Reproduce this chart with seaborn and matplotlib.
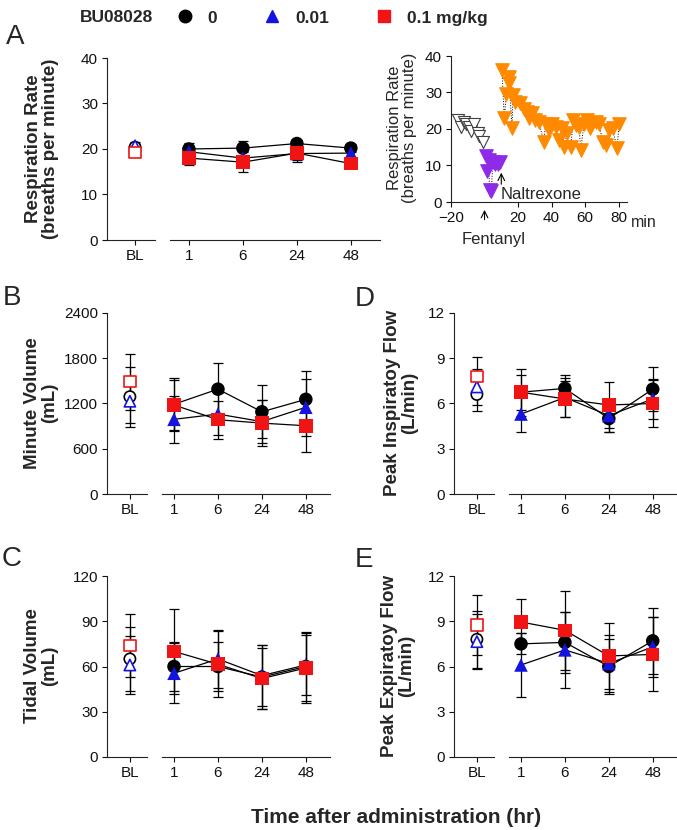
import numpy as np
import pandas as pd
import matplotlib
matplotlib.use('Agg')
import matplotlib.pyplot as plt
import seaborn as sns
from matplotlib.lines import Line2D

# ---- data ----
doses = ['0', '0.01', '0.1 mg/kg']
times = ['1', '6', '24', '48']
dose_colors = {'0': 'black', '0.01': '#1414E0', '0.1 mg/kg': '#F01414'}
dose_markers = {'0': 'o', '0.01': '^', '0.1 mg/kg': 's'}

# A: respiration rate
rr_bl = [20.4, 20.7, 19.3]
rr_bl_err = [0.8, 0.8, 0.8]
rr_0 = [20, 20.2, 21.2, 20.2]
rr_0_err = [1.3, 1.6, 0.8, 0.8]
rr_001 = [19.4, 18, 19, 19.1]
rr_001_err = [1.0, 1.5, 1.5, 1.0]
rr_01 = [18, 17.1, 19.1, 16.8]
rr_01_err = [1.5, 2.2, 2.0, 0.8]

# B: minute volume
mv_bl = [1290, 1230, 1490]
mv_bl_err = [400, 290, 370]
mv_0 = [1190, 1390, 1090, 1255]
mv_0_err = [350, 350, 350, 380]
mv_001 = [990, 1060, 960, 1150]
mv_001_err = [310, 280, 290, 380]
mv_01 = [1180, 985, 940, 905]
mv_01_err = [330, 250, 300, 345]

# C: tidal volume
tv_bl = [65, 61, 74]
tv_bl_err = [21, 19, 21]
tv_0 = [60, 60, 53, 60]
tv_0_err = [16, 16, 21, 23]
tv_001 = [55.5, 65, 54, 61]
tv_001_err = [20, 19, 20, 20]
tv_01 = [70, 61.5, 52, 59]
tv_01_err = [28, 22, 20, 23]

# D: peak inspiratory flow
pif_bl = [6.6, 7.1, 7.8]
pif_bl_err = [1.1, 1.2, 1.3]
pif_0 = [6.75, 7.0, 5.0, 6.95]
pif_0_err = [1.55, 0.9, 0.9, 1.45]
pif_001 = [5.3, 6.4, 5.2, 6.3]
pif_001_err = [1.2, 1.3, 1.1, 1.35]
pif_01 = [6.75, 6.3, 5.9, 6.0]
pif_01_err = [1.15, 1.2, 1.5, 1.55]

# E: peak expiratory flow
pef_bl = [7.8, 7.65, 8.75]
pef_bl_err = [1.9, 1.8, 2.0]
pef_0 = [7.5, 7.6, 6.0, 7.7]
pef_0_err = [0.7, 2.0, 1.85, 2.2]
pef_001 = [6.1, 7.1, 6.2, 7.3]
pef_001_err = [2.1, 2.5, 1.9, 2.0]
pef_01 = [8.95, 8.4, 6.7, 6.8]
pef_01_err = [1.5, 2.6, 2.2, 2.45]

# inset: respiration rate over minutes
pre_t = [-16, -14, -12, -11, -9, -8, -6, -4, -3, -1]
pre_y = [22.5, 20.5, 22, 21.5, 20.5, 19.5, 21.5, 19, 18, 16.5]
fen_t = [1, 1.5, 2.5, 3, 4, 5, 6, 8, 9.5]
fen_y = [12.5, 8.5, 11.5, 3.2, 3.0, 11.0, 10.5, 10.5, 11.0]
nal_t = [10.4, 11.8, 13, 14.4, 14.8, 16.4, 17, 18.4, 21.4, 23.4, 25.4, 26.4, 28.4,
         30.4, 32.4, 35.4, 36.4, 38.4, 40.4, 42.4, 44.4, 46.4, 47.4, 49.4, 51.4,
         53, 54.4, 56.4, 57.4, 59.4, 61.4, 63, 64.4, 66.4, 68.4, 70.4, 72.4, 74.4,
         76.4, 79, 80.4]
nal_y = [36.1, 22.9, 29.7, 34.3, 32.5, 20.2, 29.3, 27.5, 27, 25.6, 24.7, 22.9, 24.3,
         22.5, 22, 16.5, 21.5, 19.7, 21.5, 20.6, 17, 20.2, 15.2, 18.8, 15.2,
         22.5, 21, 20.6, 14.3, 21.5, 22.5, 20.2, 21.5, 22, 21.5, 16.5, 15.6, 19.7,
         20.2, 14.7, 21.5]

# ---- style ----
sns.set_theme(style='ticks')
plt.rcParams['font.family'] = ['Liberation Sans', 'DejaVu Sans']
plt.rcParams.update({
    'axes.linewidth': 0.8, 'axes.edgecolor': '#222222',
    'xtick.major.size': 3.5, 'ytick.major.size': 3.5,
    'xtick.major.width': 0.8, 'ytick.major.width': 0.8,
    'xtick.labelsize': 11, 'ytick.labelsize': 11,
    'xtick.major.pad': 3, 'ytick.major.pad': 3,
    'xtick.color': '#111111', 'ytick.color': '#111111',
})

W, H = 677, 830
fig = plt.figure(figsize=(W / 100, H / 100), dpi=100)


def box(x0, y0, x1, y1):
    return [x0 / W, 1 - y1 / H, (x1 - x0) / W, (y1 - y0) / H]


def draw_panel(ax_bl, ax_m, bl, bl_err, series, errs, ymax, ystep, bl_lim, m_lim):
    df = pd.DataFrame({'pos': np.tile(np.arange(1, 5), 3),
                       'val': np.concatenate(series),
                       'err': np.concatenate(errs),
                       'dose': np.repeat(doses, 4)})
    ax_m.errorbar(df.pos, df.val, yerr=df.err, fmt='none', ecolor='black',
                  elinewidth=0.9, capsize=3.5, capthick=0.9, zorder=1)
    sns.lineplot(data=df, x='pos', y='val', units='dose', estimator=None,
                 color='black', lw=0.9, ax=ax_m, zorder=2)
    sns.scatterplot(data=df, x='pos', y='val', hue='dose', style='dose',
                    palette=dose_colors, markers=dose_markers, s=95,
                    linewidth=0, legend=False, ax=ax_m, zorder=3)

    bdf = pd.DataFrame({'pos': [0, 0, 0], 'val': bl, 'err': bl_err, 'dose': doses})
    ax_bl.errorbar(bdf.pos, bdf.val, yerr=bdf.err, fmt='none', ecolor='black',
                   elinewidth=0.9, capsize=3.5, capthick=0.9, zorder=1)
    sns.scatterplot(data=bdf, x='pos', y='val', hue='dose', style='dose',
                    palette=dose_colors, markers=dose_markers, s=66,
                    linewidth=1.2, legend=False, ax=ax_bl, zorder=3)
    coll = ax_bl.collections[-1]
    fc = coll.get_facecolors()
    coll.set_edgecolors(fc)
    coll.set_facecolor('white')

    for ax in (ax_bl, ax_m):
        ax.set_ylim(0, ymax)
        ax.set_xlabel('')
        ax.set_ylabel('')
    ax_bl.set_xlim(*bl_lim)
    ax_m.set_xlim(*m_lim)
    ax_bl.set_yticks(np.arange(0, ymax + 1, ystep))
    ax_bl.set_xticks([0], ['BL'])
    ax_m.set_xticks([1, 2, 3, 4], times)
    sns.despine(ax=ax_bl)
    sns.despine(ax=ax_m, left=True)
    ax_m.tick_params(left=False, labelleft=False)


bl_lim = (-0.52, 0.38)
m_lim = (0.72, 4.55)

# A
a_bl = fig.add_axes(box(107, 58, 155, 240))
a_m = fig.add_axes(box(170, 58, 380, 240))
draw_panel(a_bl, a_m, rr_bl, rr_bl_err, [rr_0, rr_001, rr_01],
           [rr_0_err, rr_001_err, rr_01_err], 40, 10, (-0.52, 0.37), (0.65, 4.54))

# B, C
b_bl = fig.add_axes(box(107, 313, 146.6, 494))
b_m = fig.add_axes(box(161.7, 313, 330, 494))
draw_panel(b_bl, b_m, mv_bl, mv_bl_err, [mv_0, mv_001, mv_01],
           [mv_0_err, mv_001_err, mv_01_err], 2400, 600, bl_lim, m_lim)
c_bl = fig.add_axes(box(107, 576, 146.6, 757))
c_m = fig.add_axes(box(161.7, 576, 330, 757))
draw_panel(c_bl, c_m, tv_bl, tv_bl_err, [tv_0, tv_001, tv_01],
           [tv_0_err, tv_001_err, tv_01_err], 120, 30, bl_lim, m_lim)

# D, E
d_bl = fig.add_axes(box(454, 313, 493.6, 494))
d_m = fig.add_axes(box(508.7, 313, 676, 494))
draw_panel(d_bl, d_m, pif_bl, pif_bl_err, [pif_0, pif_001, pif_01],
           [pif_0_err, pif_001_err, pif_01_err], 12, 3, bl_lim, (0.72, 4.53))
e_bl = fig.add_axes(box(454, 576, 493.6, 757))
e_m = fig.add_axes(box(508.7, 576, 676, 757))
draw_panel(e_bl, e_m, pef_bl, pef_bl_err, [pef_0, pef_001, pef_01],
           [pef_0_err, pef_001_err, pef_01_err], 12, 3, bl_lim, (0.72, 4.53))

# inset in A
ax_in = fig.add_axes(box(451, 56, 627, 202))
for tt, yy in ((pre_t, pre_y), (fen_t, fen_y), (nal_t, nal_y)):
    sns.lineplot(x=tt, y=yy, color='black', linestyle=':', lw=0.7, ax=ax_in, zorder=1)
sns.scatterplot(x=pre_t, y=pre_y, marker='v', s=75, color='white',
                edgecolor='#404040', linewidth=0.8, ax=ax_in, zorder=2)
sns.scatterplot(x=fen_t, y=fen_y, marker='v', s=95, color='#8E2BE8',
                edgecolor='#8E2BE8', ax=ax_in, zorder=2)
sns.scatterplot(x=nal_t, y=nal_y, marker='v', s=95, color='#FF8A00',
                edgecolor='#FF8A00', ax=ax_in, zorder=2)
ax_in.set_xlim(-20, 85)
ax_in.set_ylim(0, 40)
ax_in.set_xticks([-20, 20, 40, 60, 80])
ax_in.set_yticks([0, 10, 20, 30, 40])
sns.despine(ax=ax_in)
arrow = dict(arrowstyle='->', lw=0.8, color='black')
ax_in.annotate('', xy=(0, -1.4), xytext=(0, -5.6), arrowprops=arrow, annotation_clip=False)
ax_in.text(5.6, -10.3, 'Fentanyl', ha='center', va='center', fontsize=12, clip_on=False)
ax_in.annotate('', xy=(10, 8.8), xytext=(10, 4.1), arrowprops=arrow, annotation_clip=False)
ax_in.text(9.5, 2.0, 'Naltrexone', ha='left', va='center', fontsize=12)
ax_in.text(87.5, -5.5, 'min', ha='left', va='center', fontsize=11.5, clip_on=False)
fig.text(402 / W, 1 - 128 / H, 'Respiration Rate\n(breaths per minute)', rotation=90,
         ha='center', va='center', fontsize=12, linespacing=1.0)

# y labels
ylabels = [('Respiration Rate\n(breaths per minute)', 42, 149),
           ('Minute Volume\n(mL)', 41, 403),
           ('Tidal Volume\n(mL)', 41, 666),
           ('Peak Inspiratoy Flow\n(L/min)', 401, 403),
           ('Peak Expiratoy Flow\n(L/min)', 398, 666)]
for txt, x, y in ylabels:
    fig.text(x / W, 1 - y / H, txt, rotation=90, ha='center', va='center',
             fontsize=13.5, fontweight='bold', linespacing=1.0)

# panel letters
for letter, x, y in [('A', 15, 37), ('B', 12, 298), ('C', 12, 559),
                     ('D', 365, 299), ('E', 364, 560)]:
    fig.text(x / W, 1 - y / H, letter, ha='center', va='center', fontsize=20)

fig.text(396 / W, 1 - 817 / H, 'Time after administration (hr)', ha='center',
         va='center', fontsize=15, fontweight='bold')

# top legend
fig.text(117 / W, 1 - 18 / H, 'BU08028', ha='center', va='center',
         fontsize=12.5, fontweight='bold')
handles = [Line2D([], [], ls='none', marker=dose_markers[d], color=dose_colors[d],
                  markersize=9) for d in doses]
fig.legend(handles, doses, ncol=3, loc='center left',
           bbox_to_anchor=(176 / W, 1 - 18 / H), frameon=False, handlelength=1.0,
           handletextpad=0.8, columnspacing=2.7, borderpad=0, borderaxespad=0,
           prop={'weight': 'bold', 'size': 12.5})

fig.savefig('out.png', dpi=100)
